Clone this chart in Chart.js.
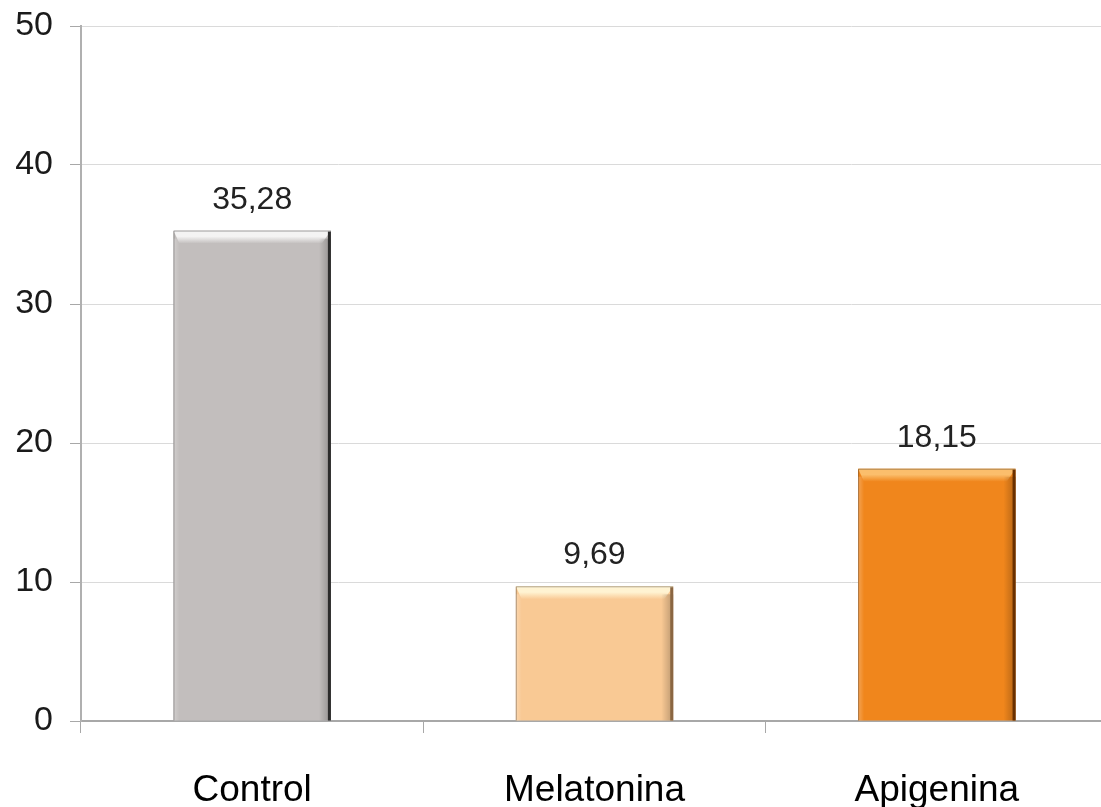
<!DOCTYPE html>
<html>
<head>
<meta charset="utf-8">
<script src="https://cdn.jsdelivr.net/npm/chart.js@4/dist/chart.umd.min.js"></script>
<style>
  html, body { margin: 0; padding: 0; background: #ffffff; overflow: hidden; }
  #wrap { width: 1101px; height: 807px; overflow: hidden; }
  canvas { display: block; }
</style>
</head>
<body>
<div id="wrap"><canvas id="chart" width="1108" height="807"></canvas></div>
<script>
// Categories and measured values
const categories = ['Control', 'Melatonina', 'Apigenina'];
const values = [35.28, 9.69, 18.15];
const yTicks = [0, 10, 20, 30, 40, 50];

// Bar colours: face, top highlight, right shadow edge
const faceColors = ['#c2bebd', '#f9c994', '#f0861c'];
const lightColors = ['#f4f3f3', '#fff3d2', '#fbbe6c'];
const edgeColors = ['#2b2b2b', '#8a6642', '#6a3000'];

const fmt = v => v.toFixed(2).replace('.', ',');

// Bevelled bar faces and value labels drawn on top of the bar elements
const bevelPlugin = {
  id: 'bevel',
  afterDatasetsDraw(chart) {
    const ctx = chart.ctx;
    const meta = chart.getDatasetMeta(0);
    meta.data.forEach((bar, i) => {
      const p = bar.getProps(['x', 'y', 'base', 'width'], true);
      const l = p.x - p.width / 2, r = p.x + p.width / 2;
      const t = p.y, b = p.base;
      ctx.save();
      // top highlight band
      const g = ctx.createLinearGradient(0, t, 0, t + 13);
      g.addColorStop(0, lightColors[i]);
      g.addColorStop(0.45, lightColors[i]);
      g.addColorStop(1, faceColors[i]);
      ctx.fillStyle = g;
      ctx.beginPath();
      ctx.moveTo(l, t);
      ctx.lineTo(r, t);
      ctx.lineTo(r - 9, t + 13);
      ctx.lineTo(l + 6, t + 13);
      ctx.closePath();
      ctx.fill();
      // soft light strip along the left side
      const gl = ctx.createLinearGradient(l, 0, l + 6, 0);
      gl.addColorStop(0, 'rgba(255,255,255,0.25)');
      gl.addColorStop(1, 'rgba(255,255,255,0)');
      ctx.fillStyle = gl;
      ctx.fillRect(l, t + 8, 6, b - t - 8);
      // soft inner shade along the right side
      const gr = ctx.createLinearGradient(r - 12, 0, r, 0);
      gr.addColorStop(0, 'rgba(0,0,0,0)');
      gr.addColorStop(1, 'rgba(0,0,0,0.25)');
      ctx.fillStyle = gr;
      ctx.fillRect(r - 12, t + 8, 12, b - t - 8);
      // dark right edge
      ctx.fillStyle = edgeColors[i];
      ctx.fillRect(r - 3, t + 1, 3, b - t - 1);
      // outline on left/top
      ctx.strokeStyle = 'rgba(0,0,0,0.3)';
      ctx.lineWidth = 1;
      ctx.beginPath();
      ctx.moveTo(l + 0.5, b);
      ctx.lineTo(l + 0.5, t + 0.5);
      ctx.lineTo(r, t + 0.5);
      ctx.stroke();
      // value label
      ctx.fillStyle = '#222222';
      ctx.font = '32px "Liberation Sans", Arial, sans-serif';
      ctx.textAlign = 'center';
      ctx.textBaseline = 'alphabetic';
      ctx.fillText(fmt(values[i]), p.x, t - 22);
      ctx.restore();
    });
  }
};

new Chart(document.getElementById('chart'), {
  type: 'bar',
  data: {
    labels: categories,
    datasets: [{
      data: values,
      backgroundColor: faceColors,
      borderWidth: 0,
      barPercentage: 0.46,
      categoryPercentage: 1.0
    }]
  },
  options: {
    responsive: false,
    animation: false,
    devicePixelRatio: 1,
    layout: { padding: { top: 26, left: 0, right: 0, bottom: 0 } },
    plugins: { legend: { display: false }, tooltip: { enabled: false } },
    scales: {
      x: {
        offset: true,
        grid: {
          display: true,
          offset: true,
          drawOnChartArea: false,
          drawTicks: true,
          tickLength: 12,
          tickColor: '#a8a8a8',
          color: '#a8a8a8'
        },
        border: { display: true, color: '#a8a8a8', width: 2 },
        ticks: {
          color: '#000000',
          padding: 36,
          font: { family: '"Liberation Sans", Arial, sans-serif', size: 37 }
        },
        afterFit(scale) { scale.height = 86; }
      },
      y: {
        min: 0,
        max: 50,
        afterBuildTicks(scale) { scale.ticks = yTicks.map(v => ({ value: v })); },
        grid: {
          color: '#dadada',
          lineWidth: 1,
          tickLength: 11,
          tickColor: '#a8a8a8'
        },
        border: { display: true, color: '#b0b0b0', width: 2 },
        ticks: {
          color: '#1a1a1a',
          padding: 17,
          font: { family: '"Liberation Sans", Arial, sans-serif', size: 34 }
        },
        afterFit(scale) {
          scale.width = 81;
          scale.paddingTop = 0;
          scale.paddingBottom = 0;
        }
      }
    }
  },
  plugins: [bevelPlugin]
});
</script>
</body>
</html>
